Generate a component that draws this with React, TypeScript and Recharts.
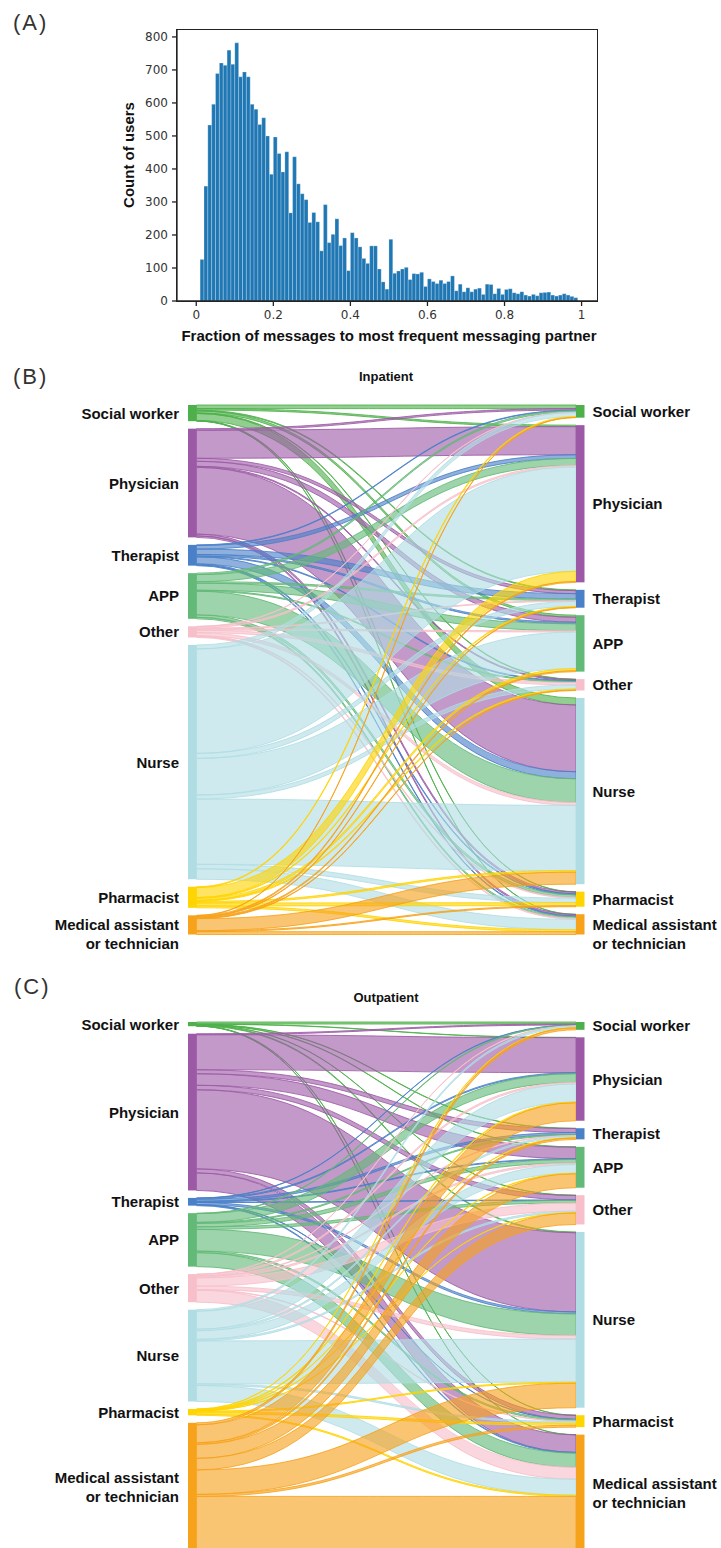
import React from 'react';
import { BarChart, Bar, XAxis, YAxis, Sankey } from 'recharts';

// (A) users per 0.01-wide bin of the fraction, bins 0.00-0.01 ... 0.99-1.00
const userCounts = [
  0, 126, 348, 533, 596, 689, 721, 714, 760, 717,
  782, 679, 694, 679, 596, 581, 535, 555, 500, 384,
  497, 447, 391, 452, 267, 437, 355, 325, 307, 238,
  268, 240, 152, 292, 177, 202, 249, 168, 191, 92,
  207, 191, 164, 129, 114, 167, 167, 97, 58, 36,
  187, 84, 91, 97, 102, 65, 83, 82, 87, 44,
  67, 59, 53, 63, 53, 59, 76, 31, 51, 28,
  40, 28, 36, 39, 20, 51, 50, 22, 38, 20,
  35, 37, 25, 22, 28, 18, 15, 20, 16, 25,
  26, 27, 18, 15, 18, 22, 18, 14, 10, 0,
];
const xTicks = [0, 0.2, 0.4, 0.6, 0.8, 1];
const yTicks = [0, 100, 200, 300, 400, 500, 600, 700, 800];

// roles, in node order (same on both sides)
const roles = [
  'Social worker',
  'Physician',
  'Therapist',
  'APP',
  'Other',
  'Nurse',
  'Pharmacist',
  'Medical assistant\nor technician',
];
const roleColors = ['#4db04a', '#9c5aa6', '#4a80c8', '#63b977', '#f7bfca', '#b0dde4', '#ffd400', '#f7a21b'];

// (B) inpatient message volume, row = sender role, column = receiver role
const inpatientFlows = [
  [3.6, 1.5, 0.8, 2, 0.5, 7, 0.4, 0.3],
  [1.5, 28, 3, 5, 1, 66.5, 1.8, 1.5],
  [0.6, 3.6, 5.4, 1.5, 0.8, 7, 1, 0.8],
  [1.5, 7, 1.5, 7, 1, 23.5, 2.5, 1.5],
  [0.3, 1.5, 0.8, 1.2, 2.5, 3, 0.8, 1],
  [4, 104, 5, 36.5, 4, 65, 4.5, 10.4],
  [0.8, 10, 0.8, 2, 1, 1.5, 3, 1.9],
  [0.3, 1, 0.5, 1, 0.5, 12, 1, 2.8],
];

// (C) outpatient message volume, row = sender role, column = receiver role
const outpatientFlows = [
  [2, 0.3, 0.3, 0.3, 0.2, 0.8, 0.1, 0.2],
  [1, 35, 4, 11.5, 4.5, 79, 4, 17.5],
  [0.3, 1, 2, 0.8, 0.5, 2, 0.3, 0.8],
  [0.5, 8.7, 1, 3.5, 2.5, 21.7, 1.5, 14],
  [0.3, 1.5, 0.5, 1.5, 8.2, 3.5, 0.5, 12],
  [1.5, 18, 1.5, 8.7, 1.5, 43, 1.5, 16],
  [0.2, 0.8, 0.3, 0.5, 0.3, 1, 2, 1.2],
  [2, 18, 1.5, 14, 11.5, 24.5, 2, 55],
];

const histData = userCounts.map((count, i) => ({ x: (i + 0.5) / 100, count }));

const buildSankey = (flows: number[][]) => ({
  nodes: [...roles, ...roles].map((name) => ({ name })),
  links: flows.flatMap((row, i) =>
    row.map((value, j) => ({ source: i, target: roles.length + j, value, role: i })),
  ),
});

const labelFont = '"Liberation Sans", Arial, sans-serif';

const Caption = ({
  x,
  y,
  size,
  bold,
  anchor = 'middle',
  rotate,
  spacing,
  color = '#111',
  children,
}: any) => {
  const tx = anchor === 'middle' ? '-50%' : anchor === 'end' ? '-100%' : '0';
  return (
    <div
      style={{
        position: 'absolute',
        left: x,
        top: y,
        transform: `translate(${tx}, -50%)${rotate ? ' rotate(-90deg)' : ''}`,
        fontSize: size,
        lineHeight: `${size}px`,
        fontWeight: bold ? 700 : 400,
        letterSpacing: spacing,
        whiteSpace: 'nowrap',
        color,
      }}
    >
      {children}
    </div>
  );
};

const SankeyNode = (props: any) => {
  const { x, y, width, height, index } = props;
  const role = index % roles.length;
  const left = index < roles.length;
  const lines = roles[role].split('\n');
  const cy = y + height / 2;
  const lineH = 19;
  const y0 = lines.length > 1 && height < 60 ? cy : cy - ((lines.length - 1) * lineH) / 2;
  const tx = left ? x - 9 : x + width + 8;
  return (
    <g>
      <rect x={x} y={y} width={width} height={height} fill={roleColors[role]} />
      <text
        textAnchor={left ? 'end' : 'start'}
        fontFamily={labelFont}
        fontWeight={700}
        fontSize={15}
        fill="#111"
      >
        {lines.map((line, k) => (
          <tspan key={k} x={tx} y={y0 + k * lineH} dominantBaseline="central">
            {line}
          </tspan>
        ))}
      </text>
    </g>
  );
};

const SankeyLink = (props: any) => {
  const { sourceX, targetX, sourceY, targetY, sourceControlX, targetControlX, linkWidth, payload } = props;
  const h = linkWidth / 2;
  const color = roleColors[payload.role];
  const d =
    `M${sourceX},${sourceY - h} C${sourceControlX},${sourceY - h} ${targetControlX},${targetY - h} ${targetX},${targetY - h}` +
    ` L${targetX},${targetY + h} C${targetControlX},${targetY + h} ${sourceControlX},${sourceY + h} ${sourceX},${sourceY + h} Z`;
  return <path d={d} fill={color} fillOpacity={0.62} stroke={color} strokeOpacity={0.85} strokeWidth={1} />;
};

const FlowChart = ({ flows, top }: { flows: number[][]; top: number }) => (
  <div style={{ position: 'absolute', left: 0, top }}>
    <Sankey
      width={721}
      height={579.5}
      data={buildSankey(flows)}
      node={SankeyNode}
      link={SankeyLink}
      nodeWidth={8.5}
      nodePadding={7.5}
      iterations={0}
      sort={false}
      margin={{ top: 20, right: 136.5, bottom: 30, left: 188 }}
    />
  </div>
);

const axisColor = '#222';
const tickStyle = { fill: '#333', fontSize: 12, fontFamily: '"DejaVu Sans", sans-serif' };

export default function App() {
  return (
    <div
      style={{
        position: 'fixed',
        left: 0,
        top: 0,
        width: 721,
        height: 1548,
        overflow: 'hidden',
        background: '#fff',
        fontFamily: labelFont,
      }}
    >
      <div style={{ position: 'absolute', left: 0, top: 0 }}>
        <BarChart
          width={721}
          height={345}
          data={histData}
          margin={{ top: 30, right: 124, bottom: 14, left: 137 }}
          barCategoryGap={0}
          barGap={0}
        >
          <XAxis
            dataKey="x"
            type="number"
            domain={[-0.05, 1.04]}
            allowDataOverflow
            ticks={xTicks}
            tickFormatter={(v: number) => (v === 0 || v === 1 ? String(v) : v.toFixed(1))}
            tick={tickStyle}
            tickSize={5}
            tickMargin={4}
            height={30}
            stroke={axisColor}
            strokeWidth={1.3}
          />
          <YAxis
            type="number"
            domain={[0, 821]}
            allowDataOverflow
            ticks={yTicks}
            tick={tickStyle}
            tickSize={5}
            tickMargin={4}
            width={40}
            stroke={axisColor}
            strokeWidth={1.3}
          />
          <Bar
            dataKey="count"
            fill="#1f77b4"
            stroke="#ffffff"
            strokeWidth={0.35}
            strokeOpacity={0.7}
            barSize={3.84}
            isAnimationActive={false}
          />
        </BarChart>
      </div>
      {/* axes frame (top and right spines) */}
      <div
        style={{
          position: 'absolute',
          left: 176.35,
          top: 29.35,
          width: 421.3,
          height: 272.3,
          border: `1.3px solid ${axisColor}`,
          boxSizing: 'border-box',
          pointerEvents: 'none',
        }}
      />
      <Caption x={13} y={23} size={22} anchor="start" spacing={2} color="#333">
        (A)
      </Caption>
      <Caption x={128} y={155} size={15} bold rotate>
        Count of users
      </Caption>
      <Caption x={389} y={335} size={15} bold>
        Fraction of messages to most frequent messaging partner
      </Caption>

      <Caption x={13} y={377} size={22} anchor="start" spacing={2} color="#333">
        (B)
      </Caption>
      <Caption x={386} y={376} size={13} bold>
        Inpatient
      </Caption>
      <FlowChart flows={inpatientFlows} top={385} />

      <Caption x={14} y={987} size={22} anchor="start" spacing={2} color="#333">
        (C)
      </Caption>
      <Caption x={386} y={997} size={13} bold>
        Outpatient
      </Caption>
      <FlowChart flows={outpatientFlows} top={1002.3} />
    </div>
  );
}
